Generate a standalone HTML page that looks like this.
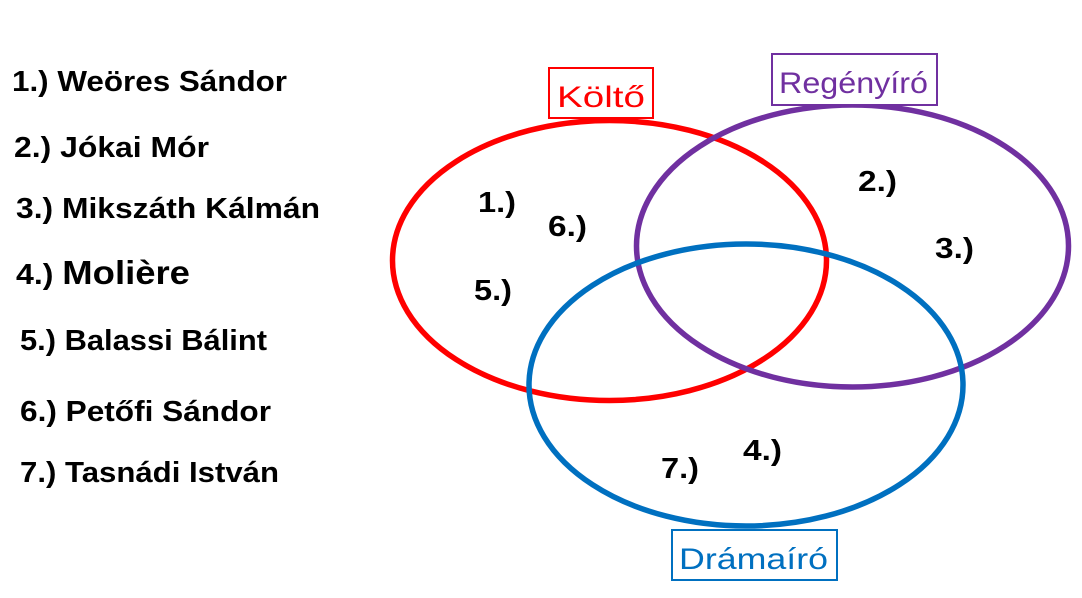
<!DOCTYPE html>
<html><head><meta charset="utf-8"><style>
html,body{margin:0;padding:0;background:#fff;width:1082px;height:598px;overflow:hidden}
svg{display:block}
text{font-family:"Liberation Sans",sans-serif}
.b{font-weight:bold;font-size:29px;fill:#000}
.l{font-size:30px}
</style></head><body>
<svg width="1082" height="598" viewBox="0 0 1082 598">
<text class="b" x="12" y="91" textLength="275" lengthAdjust="spacingAndGlyphs">1.) Weöres Sándor</text>
<text class="b" x="14" y="157" textLength="195" lengthAdjust="spacingAndGlyphs">2.) Jókai Mór</text>
<text class="b" x="16" y="218" textLength="304" lengthAdjust="spacingAndGlyphs">3.) Mikszáth Kálmán</text>
<text class="b" x="16" y="284" textLength="174" lengthAdjust="spacingAndGlyphs"><tspan>4.) </tspan><tspan style="font-size:33px">Molière</tspan></text>
<text class="b" x="20" y="350" textLength="247" lengthAdjust="spacingAndGlyphs">5.) Balassi Bálint</text>
<text class="b" x="20" y="421" textLength="251" lengthAdjust="spacingAndGlyphs">6.) Petőfi Sándor</text>
<text class="b" x="20" y="482" textLength="259" lengthAdjust="spacingAndGlyphs">7.) Tasnádi István</text>

<ellipse cx="609.5" cy="260.5" rx="217" ry="140" fill="none" stroke="#ff0000" stroke-width="5.5"/>
<ellipse cx="852.5" cy="246" rx="216" ry="141" fill="none" stroke="#7030a0" stroke-width="5.5"/>
<ellipse cx="746" cy="385" rx="217" ry="141" fill="none" stroke="#0070c0" stroke-width="5.5"/>

<rect x="549" y="68" width="104" height="50" fill="#fff" stroke="#ff0000" stroke-width="2"/>
<text class="l" x="557" y="107" fill="#ff0000" textLength="88" lengthAdjust="spacingAndGlyphs">Költő</text>
<rect x="772" y="54" width="165" height="51" fill="#fff" stroke="#7030a0" stroke-width="2"/>
<text class="l" x="779" y="93" fill="#7030a0" textLength="149" lengthAdjust="spacingAndGlyphs">Regényíró</text>
<rect x="672" y="530" width="165" height="50" fill="#fff" stroke="#0070c0" stroke-width="2"/>
<text class="l" x="679" y="569" fill="#0070c0" textLength="149" lengthAdjust="spacingAndGlyphs">Drámaíró</text>

<text class="b" x="478" y="212" textLength="38" lengthAdjust="spacingAndGlyphs">1.)</text>
<text class="b" x="548" y="236" textLength="39" lengthAdjust="spacingAndGlyphs">6.)</text>
<text class="b" x="474" y="300" textLength="38" lengthAdjust="spacingAndGlyphs">5.)</text>
<text class="b" x="858" y="191" textLength="39" lengthAdjust="spacingAndGlyphs">2.)</text>
<text class="b" x="935" y="258" textLength="39" lengthAdjust="spacingAndGlyphs">3.)</text>
<text class="b" x="743" y="460" textLength="39" lengthAdjust="spacingAndGlyphs">4.)</text>
<text class="b" x="661" y="478" textLength="38" lengthAdjust="spacingAndGlyphs">7.)</text>
</svg>
</body></html>
